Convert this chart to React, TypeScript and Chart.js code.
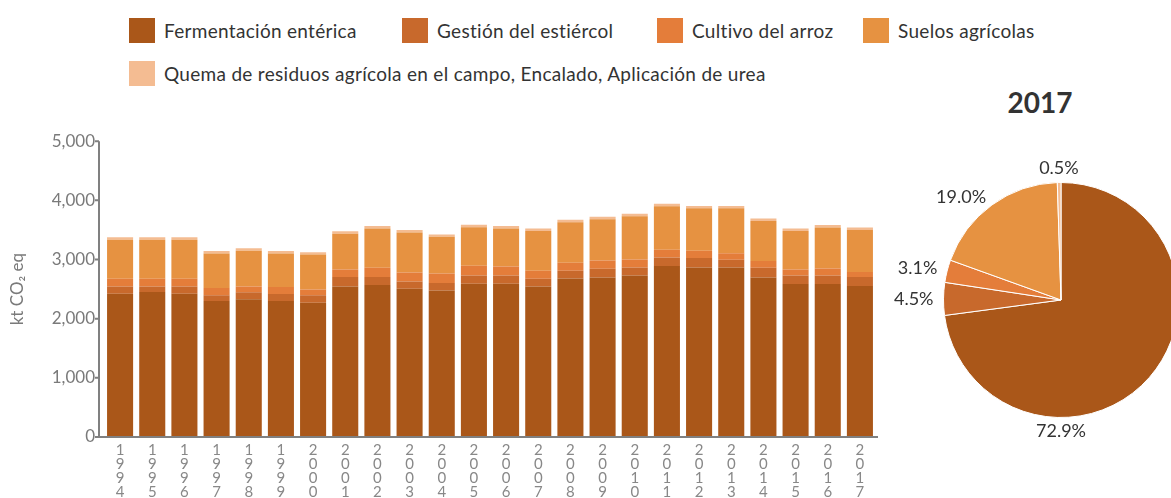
import React, { useEffect, useRef } from "react";
import { Chart, registerables } from "chart.js";

Chart.register(...registerables);

// ---------- data ----------
const years = [
  "1994", "1995", "1996", "1997", "1998", "1999", "2000", "2001", "2002", "2003", "2004", "2005",
  "2006", "2007", "2008", "2009", "2010", "2011", "2012", "2013", "2014", "2015", "2016", "2017",
];

const fermentacionEnterica = [
  2422, 2450, 2422, 2299, 2327, 2299, 2271, 2546, 2568, 2507, 2478, 2591,
  2591, 2546, 2681, 2698, 2731, 2889, 2866, 2866, 2698, 2585, 2585, 2551,
];
const gestionEstiercol = [
  124, 96, 124, 95, 118, 118, 123, 157, 135, 123, 124, 140,
  140, 129, 129, 146, 135, 146, 158, 130, 163, 146, 146, 152,
];
const cultivoArroz = [
  129, 129, 129, 124, 101, 118, 101, 129, 158, 152, 163, 163,
  152, 135, 135, 140, 135, 129, 123, 112, 112, 101, 118, 84,
];
const suelosAgricolas = [
  658, 658, 658, 584, 601, 567, 590, 602, 663, 674, 618, 652,
  641, 674, 685, 697, 730, 736, 719, 758, 680, 652, 692, 714,
];
const quemaEncaladoUrea = [
  42, 42, 42, 40, 42, 40, 40, 42, 42, 42, 42, 42,
  42, 42, 42, 42, 42, 44, 40, 40, 42, 42, 42, 42,
];

const seriesNames = [
  "Fermentación entérica",
  "Gestión del estiércol",
  "Cultivo del arroz",
  "Suelos agrícolas",
  "Quema de residuos agrícola en el campo, Encalado, Aplicación de urea",
];

const pieYear = "2017";
const pieShares2017 = [72.9, 4.5, 3.1, 19.0, 0.5];

const yAxisMax = 5000;
const yAxisStep = 1000;
const yAxisTitle = "kt CO₂ eq";

// ---------- styles ----------
const COLORS = ["#AA5719", "#C8692C", "#E47D3A", "#E69241", "#F4BC92"];
const FONT = "Lato, 'Open Sans', 'DejaVu Sans', sans-serif";
const LEGEND_ITEM_WIDTHS = [273, 255, 206, undefined, undefined];

const axisLinesPlugin = {
  id: "axisLines",
  afterDatasetsDraw(chart: any) {
    const { ctx, chartArea, scales } = chart;
    const y = scales.y;
    const x0 = chartArea.left - 5;
    const yTop = y.getPixelForValue(y.max);
    const yBottom = y.getPixelForValue(0);
    ctx.save();
    ctx.strokeStyle = "#808080";
    ctx.lineWidth = 2;
    ctx.beginPath();
    ctx.moveTo(x0, yTop);
    ctx.lineTo(x0, yBottom);
    ctx.lineTo(chartArea.right + 2, yBottom);
    y.ticks.forEach((t: any) => {
      const py = y.getPixelForValue(t.value);
      ctx.moveTo(x0 - 4, py);
      ctx.lineTo(x0, py);
    });
    ctx.stroke();
    ctx.restore();
  },
};

const pieLabelsPlugin = {
  id: "pieLabels",
  afterDatasetsDraw(chart: any) {
    const { ctx } = chart;
    const meta = chart.getDatasetMeta(0);
    const data = chart.data.datasets[0].data as number[];
    const rect = chart.canvas.getBoundingClientRect();
    const visibleRight = Math.min(chart.width, window.innerWidth - rect.left);
    ctx.save();
    ctx.font = `18px ${FONT}`;
    ctx.fillStyle = "#333333";
    meta.data.forEach((arc: any, i: number) => {
      const { x, y, startAngle, endAngle, outerRadius } = arc.getProps(
        ["x", "y", "startAngle", "endAngle", "outerRadius"],
        true
      );
      const text = data[i].toFixed(1) + "%";
      const w = ctx.measureText(text).width;
      const place = (a: number) => {
        const dx = Math.cos(a);
        const dy = Math.sin(a);
        if (Math.abs(dx) < 0.3) {
          const r = outerRadius + 14;
          return { px: x + r * dx, py: y + r * dy, align: "center", left: x + r * dx - w / 2, right: x + r * dx + w / 2 };
        }
        const r = outerRadius + 10;
        const px = x + r * dx;
        return dx < 0
          ? { px, py: y + r * dy, align: "right", left: px - w, right: px }
          : { px, py: y + r * dy, align: "left", left: px, right: px + w };
      };
      let p = place((startAngle + endAngle) / 2);
      if (p.right > visibleRight && startAngle <= Math.PI / 2 && endAngle >= Math.PI / 2) {
        p = place(Math.PI / 2);
      }
      ctx.textAlign = p.align;
      ctx.textBaseline = "middle";
      ctx.fillText(text, p.px, p.py);
    });
    ctx.restore();
  },
};

export default function App() {
  const barRef = useRef<HTMLCanvasElement>(null);
  const pieRef = useRef<HTMLCanvasElement>(null);

  useEffect(() => {
    const seriesValues = [
      fermentacionEnterica,
      gestionEstiercol,
      cultivoArroz,
      suelosAgricolas,
      quemaEncaladoUrea,
    ];
    const bar = new Chart(barRef.current as HTMLCanvasElement, {
      type: "bar",
      data: {
        labels: years,
        datasets: seriesValues.map((vals, i) => ({
          label: seriesNames[i],
          data: vals,
          backgroundColor: COLORS[i],
          borderWidth: 0,
          barPercentage: 0.81,
          categoryPercentage: 1.0,
        })),
      },
      options: {
        responsive: false,
        animation: false,
        layout: { padding: { top: 3, right: 24, left: 0, bottom: 0 } },
        plugins: { legend: { display: false }, tooltip: { enabled: false } },
        scales: {
          x: {
            stacked: true,
            grid: { display: false, drawTicks: false },
            border: { display: false },
            afterFit: (s: any) => {
              s.height = 62;
            },
            ticks: {
              autoSkip: false,
              maxRotation: 0,
              minRotation: 0,
              padding: 6,
              color: "#888888",
              font: { family: FONT, size: 15, lineHeight: "14px" },
              callback: (_v: any, i: number) => years[i].split(""),
            },
          },
          y: {
            stacked: true,
            min: 0,
            max: yAxisMax,
            grid: { display: false, drawTicks: false },
            border: { display: false },
            afterFit: (s: any) => {
              s.width = 104;
            },
            ticks: {
              stepSize: yAxisStep,
              padding: 9,
              color: "#7a7a7a",
              font: { family: FONT, size: 17 },
              callback: (v: any) => Number(v).toLocaleString("en-US"),
            },
            title: {
              display: true,
              text: yAxisTitle,
              color: "#7a7a7a",
              font: { family: FONT, size: 17 },
              padding: { top: 7, bottom: 0 },
            },
          },
        },
      },
      plugins: [axisLinesPlugin],
    });

    const pie = new Chart(pieRef.current as HTMLCanvasElement, {
      type: "pie",
      data: {
        labels: seriesNames,
        datasets: [
          {
            data: pieShares2017,
            backgroundColor: COLORS,
            borderColor: "#ffffff",
            borderWidth: 1,
          },
        ],
      },
      options: {
        responsive: false,
        animation: false,
        layout: { padding: { left: 74, right: 74, top: 52, bottom: 52 } },
        plugins: { legend: { display: false }, tooltip: { enabled: false } },
      },
      plugins: [pieLabelsPlugin],
    });

    return () => {
      bar.destroy();
      pie.destroy();
    };
  }, []);

  return (
    <div
      style={{
        position: "fixed",
        left: 0,
        top: 0,
        width: 1171,
        height: 498,
        overflow: "hidden",
        background: "#ffffff",
        fontFamily: FONT,
      }}
    >
      <div
        style={{
          position: "absolute",
          left: 129,
          top: 17,
          width: 1000,
          display: "flex",
          flexWrap: "wrap",
          rowGap: 17,
        }}
      >
        {seriesNames.map((name, i) => (
          <div
            key={name}
            style={{
              display: "flex",
              alignItems: "center",
              height: 26,
              width: LEGEND_ITEM_WIDTHS[i],
              flexBasis: i === 4 ? "100%" : undefined,
            }}
          >
            <div style={{ width: 26, height: 25, background: COLORS[i], flex: "none" }} />
            <span
              style={{
                marginLeft: 9,
                fontSize: 19,
                letterSpacing: 0.3,
                color: "#333333",
                whiteSpace: "nowrap",
              }}
            >
              {name}
            </span>
          </div>
        ))}
      </div>
      <canvas
        ref={barRef}
        width={900}
        height={377}
        style={{ position: "absolute", left: 0, top: 122, width: 900, height: 377 }}
      />
      <div
        style={{
          position: "absolute",
          left: 909,
          top: 87,
          width: 262,
          textAlign: "center",
          fontWeight: 700,
          fontSize: 28,
          lineHeight: "30px",
          color: "#333333",
        }}
      >
        {pieYear}
      </div>
      <canvas
        ref={pieRef}
        width={384}
        height={340}
        style={{ position: "absolute", left: 869, top: 130, width: 384, height: 340 }}
      />
    </div>
  );
}
